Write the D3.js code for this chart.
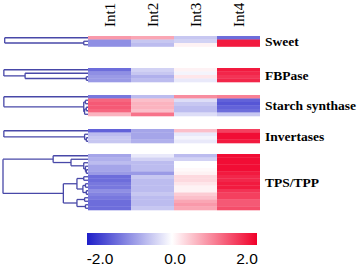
<!DOCTYPE html>
<html><head><meta charset="utf-8">
<script src="https://cdn.jsdelivr.net/npm/d3@7"></script>
<style>html,body{margin:0;padding:0;background:#fff;}svg{display:block;}</style>
</head><body>
<script>
// ---- data ----
const columns = ["Int1", "Int2", "Int3", "Int4"];
const groups = ["Sweet", "FBPase", "Starch synthase", "Invertases", "TPS/TPP"];

const sweetValues = [
  [0.8, 0.7, -0.5, -1.3],
  [-1.0, -0.5, -0.4, 1.8],
  [-1.0, -0.6, 0.1, 1.8]
];
const fbpaseValues = [
  [-1.3, -0.4, 0.1, 1.8],
  [-1.0, -0.5, -0.1, 1.7],
  [-0.9, -0.7, 0.2, 1.6],
  [-0.9, -0.6, -0.2, 1.7]
];
const starchValues = [
  [-1.2, -0.6, 0.9, 1.0],
  [1.2, 0.5, -0.3, -1.4],
  [1.3, 0.6, -0.5, -1.5],
  [1.3, 0.6, -0.6, -1.4],
  [1.2, 0.5, -0.6, -1.3],
  [0.6, 1.1, -0.3, -0.5]
];
const invertaseValues = [
  [-1.4, -0.8, 0.5, 1.5],
  [-0.6, -0.8, -0.2, 1.9],
  [-0.5, -0.8, -0.1, 1.9],
  [-0.5, -0.7, -0.2, 1.8]
];
const tpsValues = [
  [-0.8, -0.2, -0.6, 1.9],
  [-0.7, -0.4, -0.4, 1.9],
  [-0.6, -0.6, 0.0, 1.9],
  [-0.8, -0.6, 0.0, 1.9],
  [-0.8, -0.6, 0.05, 1.9],
  [-0.9, -0.9, 0.1, 1.8],
  [-1.3, -0.5, 0.3, 1.7],
  [-1.3, -0.6, 0.3, 1.7],
  [-1.2, -0.6, 0.2, 1.8],
  [-1.2, -0.6, 0.1, 1.8],
  [-1.0, -0.6, 0.1, 1.6],
  [-1.1, -0.5, 0.4, 1.5],
  [-1.2, -0.6, 0.5, 1.5],
  [-1.3, -0.6, 0.7, 1.3],
  [-1.3, -0.6, 0.8, 1.3],
  [-1.3, -0.5, 0.7, 1.4]
];

// dendrograms: internal node {h, c:[...]}, leaf = row index
const sweetTree = {h: 0.98, c: [0, {h: 0.05, c: [1, 2]}]};
const fbpaseTree = {h: 0.99, c: [0, {h: 0.74, c: [1, {h: 0.02, c: [2, 3]}]}]};
const starchTree = {h: 0.99, c: [0, {h: 0.05, c: [{h: 0.03, c: [1, 2]}, {h: 0.04, c: [{h: 0.02, c: [3, 4]}, 5]}]}]};
const invertaseTree = {h: 0.99, c: [0, {h: 0.04, c: [1, {h: 0.02, c: [2, 3]}]}]};
const tpsTree = {h: 1.0, c: [
  {h: 0.41, c: [0, {h: 0.2, c: [1, {h: 0.05, c: [2, {h: 0.03, c: [3, {h: 0.02, c: [4, 5]}]}]}]}]},
  {h: 0.29, c: [
    {h: 0.13, c: [{h: 0.05, c: [6, 7]}, {h: 0.06, c: [{h: 0.03, c: [8, 9]}, {h: 0.02, c: [10, 11]}]}]},
    {h: 0.13, c: [{h: 0.04, c: [12, 13]}, {h: 0.03, c: [14, 15]}]}
  ]}
]};

const colorTicks = [-2, 0, 2];

// ---- layout ----
const W = 359, H = 267;
const groupValues = [sweetValues, fbpaseValues, starchValues, invertaseValues, tpsValues];
const groupTrees = [sweetTree, fbpaseTree, starchTree, invertaseTree, tpsTree];
const groupTop = [36, 68, 95, 129, 154];
const rowH = 3.5;

const svg = d3.select("body").append("svg").attr("width", W).attr("height", H);

const x = d3.scaleBand().domain(columns).range([88, 260]);
const color = d3.scaleLinear().domain([-2, 0, 2]).range(["#1e1ec8", "#ffffff", "#f0002a"]);
const xDend = d3.scaleLinear().domain([0, 1]).range([88, 3]);

// column headers
svg.append("g").selectAll("text").data(columns).join("text")
  .attr("transform", d => `translate(${x(d) + x.bandwidth() / 2 + 5},27) rotate(-90)`)
  .attr("font-family", "'Liberation Serif','Times New Roman',serif")
  .attr("font-size", 15)
  .attr("fill", "#000")
  .text(d => d);

groupValues.forEach((vals, gi) => {
  const y = d3.scaleBand().domain(d3.range(vals.length))
    .range([groupTop[gi], groupTop[gi] + vals.length * rowH]);
  const g = svg.append("g");
  vals.forEach((row, ri) => {
    g.selectAll(null).data(row).join("rect")
      .attr("x", (d, ci) => x(columns[ci]))
      .attr("y", y(ri))
      .attr("width", x.bandwidth())
      .attr("height", y.bandwidth() + 0.3)
      .attr("fill", d => color(d));
  });

  // dendrogram
  const root = d3.hierarchy(groupTrees[gi], d => (typeof d === "object" ? d.c : null));
  root.eachAfter(n => {
    if (n.children) {
      n.yy = d3.mean(n.children, c => c.yy);
      n.xx = xDend(n.data.h);
    } else {
      n.yy = y(n.data) + y.bandwidth() / 2;
      n.xx = xDend(0);
    }
  });
  const dg = svg.append("g").attr("stroke", "#4848a8").attr("stroke-width", 1.3).attr("fill", "none");
  root.each(n => {
    if (!n.children) return;
    const ys = n.children.map(c => c.yy);
    dg.append("line").attr("x1", n.xx).attr("x2", n.xx)
      .attr("y1", d3.min(ys)).attr("y2", d3.max(ys));
    n.children.forEach(c => {
      dg.append("line").attr("x1", n.xx).attr("x2", c.xx).attr("y1", c.yy).attr("y2", c.yy);
    });
  });

  // group label
  svg.append("text")
    .attr("x", 265)
    .attr("y", (y.range()[0] + y.range()[1]) / 2)
    .attr("dy", "0.35em")
    .attr("font-family", "'Liberation Serif','Times New Roman',serif")
    .attr("font-weight", "bold")
    .attr("font-size", 13.5)
    .attr("fill", "#000")
    .text(groups[gi]);
});

// colour bar
const cb = d3.scaleLinear().domain([-2, 2]).range([87, 257]);
const grad = svg.append("defs").append("linearGradient").attr("id", "cbgrad");
grad.selectAll("stop").data(d3.range(0, 1.0001, 0.05)).join("stop")
  .attr("offset", d => d)
  .attr("stop-color", d => color(cb.invert(87 + d * 170)));
svg.append("rect").attr("x", cb(-2)).attr("y", 233).attr("width", cb(2) - cb(-2)).attr("height", 12)
  .attr("fill", "url(#cbgrad)");
svg.append("g").selectAll("text").data(colorTicks).join("text")
  .attr("x", (d, i) => cb(d) + [13, 3, -10][i])
  .attr("y", 264)
  .attr("text-anchor", "middle")
  .attr("font-family", "'Liberation Sans',Arial,sans-serif")
  .attr("font-size", 15.5)
  .attr("fill", "#000")
  .text(d => d3.format(".1f")(d).replace("−", "-"));
</script>
</body></html>
